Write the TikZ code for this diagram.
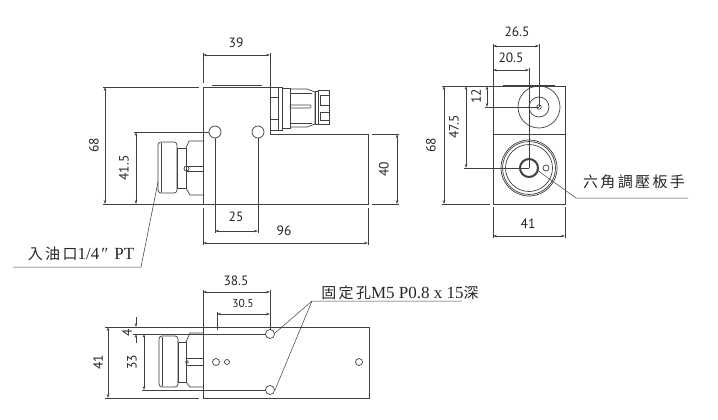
\documentclass[tikz,border=0pt]{standalone}
\usepackage{xcolor}
\usepackage{fontspec}
\setmainfont{PT Sans}
\newfontfamily\cjkfont[LetterSpace=16]{Noto Sans CJK TC}
\newfontfamily\latinfont{Liberation Serif}
\usetikzlibrary{arrows.meta}
\definecolor{linegray}{gray}{0.25}
\tikzset{
  part/.style={draw=linegray,line width=0.7pt},
  ext/.style={draw=linegray,line width=0.5pt},
  dimline/.style={draw=linegray,line width=0.5pt,{Stealth[length=4pt,width=2.6pt]}-{Stealth[length=4pt,width=2.6pt]}},
  dimtext/.style={font=\fontsize{13.5}{13.5}\selectfont,text=black!85,inner sep=0pt},
  note/.style={font=\fontsize{15}{15}\selectfont,text=black!85,inner sep=0pt}
}
\newcommand{\latinnote}{\latinfont\fontsize{17}{17}\selectfont}
\begin{document}
\begin{tikzpicture}[x=1pt,y=-1pt]
  \useasboundingbox[fill=white] (0,0) rectangle (718,420);
  % Front view
  \draw[part] (203,87) -- (270,87) -- (270,134) -- (368,134) -- (368,204) -- (203,204) -- cycle;
  \draw[part] (212,85.5) -- (262,85.5);
  \draw[part] (215,132) circle (6);
  \draw[part] (258,132) circle (6);
  % Connector
  \draw[part] (270,87) rectangle (278,130);
  \draw[part] (270,97) -- (278,97) (270,119) -- (278,119);
  \draw[part] (278,87) rectangle (282,130);
  \draw[part] (282,88) rectangle (290,128);
  \draw[part] (290,89) -- (307,89) -- (315,92) -- (315,124) -- (307,127) -- (290,127);
  \draw[part,rounded corners=1pt] (290,105) rectangle (311,108);
  \draw[part] (290,93) -- (312,93) (290,123) -- (312,123);
  \draw[part] (315,91) rectangle (318,124);
  \draw[part] (318,90) rectangle (329,124);
  \draw[part] (320,95) rectangle (329,105);
  \draw[part] (320,112) rectangle (329,120);
  % Nozzle, front view
  \draw[part,rounded corners=3pt] (158,142) rectangle (177,193);
  \draw[part] (161,143) -- (161,192);
  \draw[part] (177,148) rectangle (186,188);
  \draw[part] (203,141) -- (189,141) -- (186,148) (186,188) -- (190,195) -- (203,195);
  \draw[part] (187,166) -- (203,166) (187,171) -- (203,171);
  \draw[part] (186.5,168.5) circle (2.5);
  % Front view dimensions
  \draw[ext] (203,53) -- (203,83) (270,53) -- (270,87);
  \draw[dimline] (203,55) -- (270,55);
  \node[dimtext] (widthtop) at (236,43) {39};
  \draw[ext] (103,87) -- (199,87) (103,204) -- (203,204);
  \draw[dimline] (105,87) -- (105,204);
  \node[dimtext,rotate=90] (heightfront) at (94,145) {68};
  \draw[ext] (134,132) -- (209,132);
  \draw[dimline] (136,132) -- (136,204);
  \node[dimtext,rotate=90] (heighthole) at (124,168) {41.5};
  \draw[ext] (215,138) -- (215,233) (258,138) -- (258,233);
  \draw[dimline] (215,231) -- (258,231);
  \node[dimtext] (pitchhole) at (236,217) {25};
  \draw[ext] (203,208) -- (203,245) (368,208) -- (368,245);
  \draw[dimline] (203,243) -- (368,243);
  \node[dimtext] (lengthfront) at (284,231) {96};
  \draw[ext] (372,134) -- (399,134) (372,204) -- (399,204);
  \draw[dimline] (397,134) -- (397,204);
  \node[dimtext,rotate=90] (heightstep) at (384,169) {40};
  % Inlet label
  \node[note] (inletlabel) at (81,254) {{\cjkfont 入油口}{\latinnote 1/4\hspace{2pt}″\hspace{6pt}PT}};
  \coordinate (inletknee) at (141,267);
  \draw[ext] (158,182) -- (inletknee) -- (13,267);
  % Side view
  \draw[part] (493,86) rectangle (565,204);
  \draw[part] (493,134) -- (565,134);
  \draw[part] (503,85) -- (555,85);
  \draw[part] (539,107) circle (21);
  \draw[part] (539,107) circle (10);
  \draw[part] (539,107) circle (2.3);
  \draw[part] (529,168) circle (28);
  \draw[part] (529,168) circle (26.5);
  \draw[part] (529,168) circle (23.5);
  \draw[draw=linegray,line width=2pt] (529,168) circle (9);
  \draw[part] (546,168) circle (3);
  % Side view dimensions
  \draw[ext] (493,44) -- (493,86) (539,44) -- (539,107) (529,68) -- (529,168);
  \draw[dimline] (493,46) -- (539,46);
  \node[dimtext] (offsettop) at (517,32) {26.5};
  \draw[dimline] (493,70) -- (529,70);
  \node[dimtext] (offsetmid) at (511,58) {20.5};
  \draw[ext] (485,107) -- (539,107);
  \draw[dimline] (487,86) -- (487,107);
  \node[dimtext,rotate=90] (depthport) at (476,96) {12};
  \draw[ext] (442,86) -- (493,86) (464,168) -- (529,168) (442,204) -- (490,204);
  \draw[dimline] (466,86) -- (466,168);
  \node[dimtext,rotate=90] (depthadjust) at (454,127) {47.5};
  \draw[dimline] (444,86) -- (444,204);
  \node[dimtext,rotate=90] (heightside) at (431,145) {68};
  \draw[ext] (493,207) -- (493,238) (565,207) -- (565,238);
  \draw[dimline] (493,236) -- (565,236);
  \node[dimtext] (widthside) at (528,224) {41};
  % Wrench label
  \node[note] (wrenchlabel) at (634,182) {\cjkfont 六角調壓板手};
  \coordinate (wrenchknee) at (576,198);
  \draw[ext] (537,170) -- (wrenchknee) -- (688,198);
  % Bottom view
  \draw[part] (203,327) rectangle (369,398);
  \draw[part] (270,334) circle (4.5);
  \draw[part] (270,390) circle (4.5);
  \draw[part] (216,362) circle (3.5);
  \draw[part] (227,362) circle (2.5);
  \draw[part] (359,362) circle (3.5);
  % Nozzle, bottom view
  \draw[part,rounded corners=3pt] (159,336) rectangle (178,387);
  \draw[part] (162,337) -- (162,386);
  \draw[part] (178,342) rectangle (186,382);
  \draw[part] (203,333) -- (190,333) -- (186,342) (186,382) -- (190,387) -- (203,387);
  \draw[part] (187,358) -- (203,358) (187,365) -- (203,365);
  \draw[part] (187,362) circle (1.5);
  % Bottom view dimensions
  \draw[ext] (105,327) -- (203,327) (105,398) -- (199,398);
  \draw[dimline] (108,327) -- (108,398);
  \node[dimtext,rotate=90] (widthbottom) at (98,362) {41};
  \draw[ext] (133,334) -- (265.5,334) (142,390) -- (265.5,390);
  \draw[ext,-{Stealth[length=4pt,width=2.6pt]}] (136,317) -- (136,327);
  \draw[ext,-{Stealth[length=4pt,width=2.6pt]}] (136,343) -- (136,334);
  \node[dimtext,rotate=90] (edgehole) at (127,333) {4};
  \draw[dimline] (144,334) -- (144,390);
  \node[dimtext,rotate=90] (pitchbottom) at (132,362) {33};
  \draw[ext] (203,290) -- (203,327) (270,290) -- (270,329.5);
  \draw[dimline] (203,292) -- (270,292);
  \node[dimtext] (holeouter) at (236,281) {38.5};
  \draw[ext] (217,312) -- (217,330);
  \draw[dimline] (217,314) -- (270,314);
  \node[dimtext,font=\fontsize{11.5}{11.5}\selectfont] (holeinner) at (243,303) {30.5};
  % Fixing hole label
  \node[note] (holelabel) at (400,293) {{\cjkfont 固定孔}{\latinnote M5 P0.8 x 15}{\cjkfont 深}};
  \coordinate (holeknee) at (312,301);
  \draw[ext] (275,333) -- (holeknee) -- (462,301);
  \draw[ext] (275,390) -- (holeknee);
\end{tikzpicture}
\end{document}
